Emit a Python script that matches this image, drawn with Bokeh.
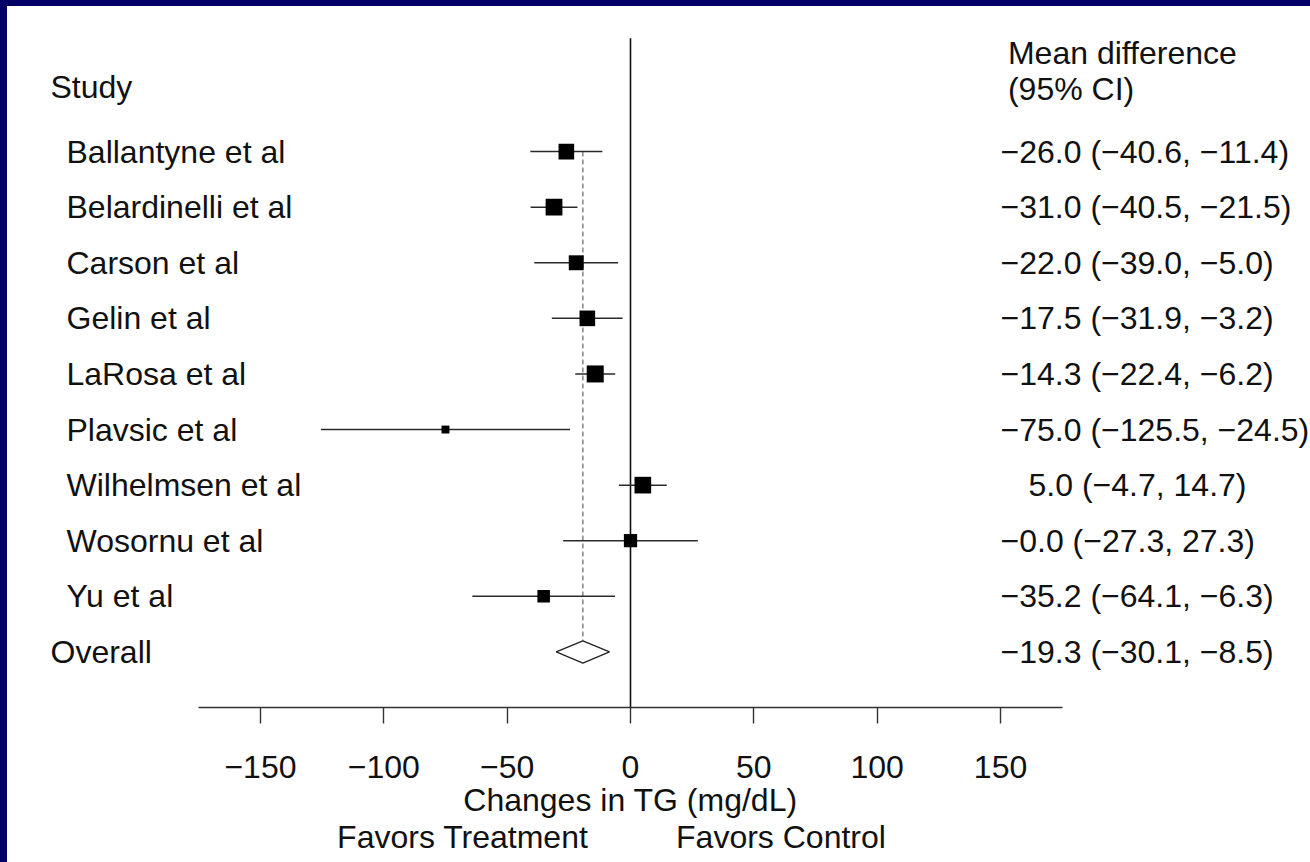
from bokeh.plotting import figure
from bokeh.models import Range1d, LinearAxis, FixedTicker, ColumnDataSource
from bokeh.core.properties import value
from bokeh.layouts import column
from bokeh.embed import file_html
from bokeh.resources import INLINE

# ---- data -------------------------------------------------------------
studies = ["Ballantyne et al", "Belardinelli et al", "Carson et al", "Gelin et al",
           "LaRosa et al", "Plavsic et al", "Wilhelmsen et al", "Wosornu et al", "Yu et al"]
mean_diff = [-26.0, -31.0, -22.0, -17.5, -14.3, -75.0, 5.0, -0.0, -35.2]
ci_lower = [-40.6, -40.5, -39.0, -31.9, -22.4, -125.5, -4.7, -27.3, -64.1]
ci_upper = [-11.4, -21.5, -5.0, -3.2, -6.2, -24.5, 14.7, 27.3, -6.3]
weights = [12.5, 14.4, 11.4, 12.5, 14.8, 3.2, 14.2, 9.0, 8.0]   # percent
overall_name = "Overall"
overall_mean, overall_lower, overall_upper = -19.3, -30.1, -8.5
x_ticks = [-150, -100, -50, 0, 50, 100, 150]
x_title = "Changes in TG (mg/dL)"
favors_left, favors_right = "Favors Treatment", "Favors Control"
col_left_title = "Study"
col_right_title = ["Mean difference", "(95% CI)"]

# ---- geometry -----------------------------------------------------------
FIG_W, FIG_H = 1303, 856
PX_PER_UNIT = 2.467
ZERO_PX = 623            # horizontal pixel of x = 0 inside the figure
FONT_NAME = "Liberation Sans"
FONT = value(FONT_NAME)
FS = "32px"
INK = "#111111"

def px_to_x(px):
    return (px - ZERO_PX) / PX_PER_UNIT

def fmt(v):
    return f"{v:.1f}".replace("-", "\u2212")

def fmt_tick(v):
    return str(int(v)).replace("-", "\u2212")

n = len(studies)
rows = list(range(n))
overall_row = n

p = figure(width=FIG_W, height=FIG_H,
           x_range=Range1d(px_to_x(0), px_to_x(FIG_W)),
           y_range=Range1d(10.0, -2.61),
           x_axis_type=None, y_axis_type=None,
           output_backend="svg", toolbar_location=None,
           min_border_left=0, min_border_right=0, min_border_top=0, min_border_bottom=155,
           outline_line_color=None, background_fill_color="white", border_fill_color="white",
           margin=(6, 0, 0, 7), styles={"background-color": "white"})

# line of no effect
p.segment(x0=[0], y0=[-2.04], x1=[0], y1=[10.0], line_color="#111111", line_width=1.6)

# pooled estimate reference line
p.segment(x0=[overall_mean], y0=[0], x1=[overall_mean], y1=[overall_row - 0.2],
          line_color="#808080", line_width=1.4, line_dash="5 3")

# study confidence intervals and weighted squares
src = ColumnDataSource(dict(
    y=rows, mean=mean_diff, lo=ci_lower, hi=ci_upper,
    size=[4.42 * w ** 0.5 for w in weights],
))
p.segment(x0="lo", y0="y", x1="hi", y1="y", source=src, line_color="#2a2a2a", line_width=1.5)
p.scatter(x="mean", y="y", size="size", marker="square", source=src,
          fill_color="black", line_color=None)

# pooled diamond
p.patch(x=[overall_lower, overall_mean, overall_upper, overall_mean],
        y=[overall_row, overall_row - 0.2, overall_row, overall_row + 0.2],
        fill_color="white", line_color="#222222", line_width=1.3)

# left column: study names
txt = dict(text_font=FONT, text_font_size=FS, text_color=INK, text_baseline="middle")
p.text(x=[px_to_x(59)] * n, y=rows, text=studies, text_align="left", **txt)
p.text(x=[px_to_x(43)] * 2, y=[-1.16, overall_row], text=[col_left_title, overall_name],
       text_align="left", **txt)

# right column: estimates with confidence limits
labels = [f"{fmt(m)} ({fmt(l)}, {fmt(u)})" for m, l, u in zip(mean_diff, ci_lower, ci_upper)]
labels.append(f"{fmt(overall_mean)} ({fmt(overall_lower)}, {fmt(overall_upper)})")
all_means = mean_diff + [overall_mean]
right_src = ColumnDataSource(dict(
    x=[150.0] * (n + 1), y=rows + [overall_row], text=labels,
    dx=[28 if m > 0 else 0 for m in all_means],
))
p.text(x="x", y="y", text="text", x_offset="dx", source=right_src, text_align="left", **txt)
p.text(x=[153.0, 153.0], y=[-1.78, -1.13], text=col_right_title, text_align="left", **txt)


def caption_axis(ticks, names, standoff):
    """Tick-less axis whose labels act as centred captions below the scale."""
    ax = LinearAxis(ticker=FixedTicker(ticks=ticks),
                    major_label_overrides=dict(zip(ticks, names)))
    ax.axis_line_color = None
    ax.major_tick_line_color = None
    ax.minor_tick_line_color = None
    ax.major_tick_in = 0
    ax.major_tick_out = 0
    ax.major_label_text_font = FONT_NAME
    ax.major_label_text_font_size = FS
    ax.major_label_text_color = INK
    ax.major_label_standoff = standoff
    return ax


# x axis
xaxis = LinearAxis(bounds=(-175, 175), ticker=FixedTicker(ticks=x_ticks))
xaxis.axis_line_color = "#333333"
xaxis.axis_line_width = 1.4
xaxis.major_tick_line_color = "#333333"
xaxis.major_tick_line_width = 1.4
xaxis.major_tick_in = 0
xaxis.major_tick_out = 16
xaxis.minor_tick_line_color = None
xaxis.major_label_text_font = FONT_NAME
xaxis.major_label_text_font_size = FS
xaxis.major_label_text_color = INK
xaxis.major_label_standoff = 32
xaxis.major_label_overrides = {t: fmt_tick(t) for t in x_ticks}
p.add_layout(xaxis, "below")

# axis title centred on zero, then the direction-of-effect captions
p.add_layout(caption_axis([0], [x_title], 1), "below")
p.add_layout(caption_axis([-68, 61], [favors_left, favors_right], -2), "below")

page = column(p, styles={"background-color": "#000066"})

open("out.html", "w").write(file_html(page, INLINE))
